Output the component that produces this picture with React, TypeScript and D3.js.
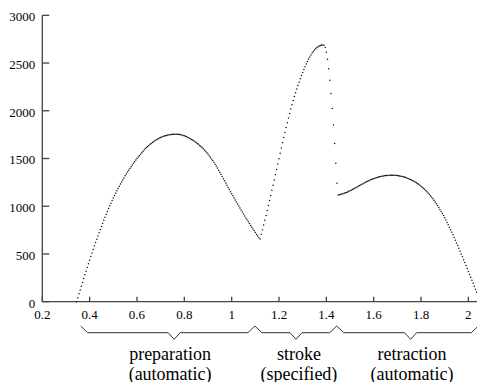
import React from "react";
import * as d3 from "d3";

const W = 485;
const H = 382;
const MARGIN = 8; // the page's default body margin
const FONT = "Liberation Serif";

// samples are taken every 5 ms, one array per phase
const sampleStep = 0.005;

const prepStart = 0.345;
const prepSpeed = [
  0, 41, 82, 122, 162, 202, 242, 281, 320, 359, 397, 435, 473, 510, 547, 583, 619, 654, 689, 723,
  756, 789, 822, 854, 885, 916, 946, 975, 1004, 1032, 1059, 1086, 1112, 1137, 1161, 1185, 1209, 1232, 1254, 1276,
  1297, 1318, 1338, 1358, 1377, 1396, 1414, 1432, 1450, 1467, 1483, 1499, 1515, 1530, 1545, 1560, 1574, 1588, 1601, 1614,
  1626, 1637, 1648, 1658, 1667, 1676, 1685, 1693, 1700, 1707, 1714, 1720, 1725, 1730, 1735, 1739, 1742, 1745, 1748, 1750,
  1752, 1754, 1755, 1755, 1755, 1755, 1753, 1752, 1749, 1746, 1742, 1737, 1732, 1727, 1721, 1714, 1707, 1700, 1693, 1685,
  1676, 1667, 1658, 1648, 1637, 1626, 1614, 1602, 1589, 1575, 1561, 1546, 1530, 1514, 1496, 1478, 1460, 1441, 1421, 1400,
  1378, 1356, 1334, 1312, 1289, 1266, 1243, 1220, 1197, 1175, 1153, 1131, 1109, 1087, 1066, 1044, 1023, 1002, 981, 960,
  939, 919, 898, 878, 858, 838, 819, 799, 780, 761, 742, 724, 705, 688, 670
];

const strokeStart = 1.12;
const strokeSpeed = [
  658, 706, 754, 804, 854, 904, 956, 1008, 1060, 1113, 1167, 1221, 1275, 1330, 1386, 1442, 1498, 1554, 1610, 1665,
  1719, 1772, 1824, 1875, 1924, 1972, 2019, 2064, 2107, 2149, 2189, 2228, 2265, 2301, 2336, 2369, 2401, 2432, 2461, 2489,
  2516, 2541, 2564, 2585, 2604, 2621, 2637, 2650, 2662, 2671, 2679, 2684, 2688, 2689, 2686, 2664, 2614, 2540, 2440, 2320,
  2180, 2025, 1850, 1658, 1450, 1240
];

const retractStart = 1.45;
const retractSpeed = [
  1118, 1121, 1124, 1127, 1131, 1135, 1140, 1145, 1150, 1156, 1162, 1168, 1174, 1181, 1188, 1195, 1202, 1209, 1216, 1223,
  1230, 1236, 1243, 1250, 1256, 1262, 1268, 1274, 1279, 1284, 1289, 1293, 1298, 1302, 1305, 1309, 1312, 1315, 1317, 1319,
  1321, 1322, 1323, 1324, 1325, 1325, 1325, 1324, 1324, 1323, 1321, 1319, 1317, 1315, 1312, 1309, 1305, 1301, 1296, 1291,
  1286, 1280, 1274, 1268, 1261, 1254, 1246, 1238, 1229, 1220, 1210, 1200, 1189, 1177, 1165, 1152, 1139, 1125, 1110, 1095,
  1079, 1062, 1044, 1026, 1007, 987, 967, 946, 924, 902, 879, 855, 830, 805, 780, 754, 727, 700, 672, 644,
  616, 588, 559, 529, 500, 470, 440, 410, 379, 348, 317, 286, 255, 224, 193, 162, 130, 99, 68, 36
];

const xTicks = [0.2, 0.4, 0.6, 0.8, 1, 1.2, 1.4, 1.6, 1.8, 2];
const yTicks = [0, 500, 1000, 1500, 2000, 2500, 3000];

// braces under the axis (in time units)
const braceFrom = [0.362, 1.098, 1.444];
const braceTo = [1.098, 1.444, 2.042];
const braceTip = [0.757, 1.272, 1.756];
const labelAt = [0.74, 1.284, 1.762];
const phaseNames = ["preparation", "stroke", "retraction"];
const phaseModes = ["(automatic)", "(specified)", "(automatic)"];

function samples(start: number, values: number[]) {
  return values.map((v, i) => ({ t: start + i * sampleStep, v }));
}

const data = [
  ...samples(prepStart, prepSpeed),
  ...samples(strokeStart, strokeSpeed),
  ...samples(retractStart, retractSpeed)
];

// text is set at 20px and scaled down to the wanted size
function Label(props: { x: number; y: number; size: number; anchor: string; text: string }) {
  const k = props.size / 20;
  return (
    <g transform={`translate(${props.x},${props.y}) scale(${k})`}>
      <text x={0} y={0} textAnchor={props.anchor} fontSize={20} fontFamily={FONT}>{props.text}</text>
    </g>
  );
}

export default function App() {
  const x = d3.scaleLinear().domain([0.2, 2.05]).range([42.3, 480.2]);
  const y = d3.scaleLinear().domain([0, 3000]).range([301.7, 15.3]);
  const fmt = d3.format("~g");
  const axisColor = "#444";

  const top = 326, mid = 332.7, low = 339.3;
  const line = d3.line();

  return (
    <svg width={W - MARGIN} height={H - MARGIN}>
      <g transform={`translate(${-MARGIN},${-MARGIN})`}>
        {/* y axis */}
        <line x1={x(0.2)} x2={x(0.2)} y1={y(0)} y2={y(3000)} stroke={axisColor} strokeWidth={1.3} />
        {yTicks.map(v => (
          <g key={"y" + v}>
            <line x1={x(0.2)} x2={x(0.2) + 7} y1={y(v)} y2={y(v)} stroke={axisColor} strokeWidth={1.3} />
            <Label x={x(0.2) - 7} y={y(v) + 5.8} size={13} anchor="end" text={String(v)} />
          </g>
        ))}
        {/* x axis */}
        <line x1={x(0.2)} x2={x(2.05)} y1={y(0)} y2={y(0)} stroke={axisColor} strokeWidth={1.3} />
        {xTicks.map(t => (
          <g key={"x" + t}>
            <line x1={x(t)} x2={x(t)} y1={y(0)} y2={y(0) - 5} stroke={axisColor} strokeWidth={1.3} />
            <Label x={x(t)} y={y(0) + 17.3} size={13} anchor="middle" text={fmt(t)} />
          </g>
        ))}
        {/* samples */}
        <g fill="#111">
          {data.map((d, i) => (
            <circle key={i} cx={x(d.t)} cy={y(d.v)} r={0.75} />
          ))}
        </g>
        {/* phase braces */}
        {braceFrom.map((from, i) => {
          const a = x(from), b = x(braceTo[i]), c = x(braceTip[i]);
          const lx = x(labelAt[i]);
          return (
            <g key={"b" + i}>
              <path d={line([[a, top], [a + 7, mid], [c - 6, mid], [c, low], [c + 6, mid], [b - 7, mid], [b, top]]) || ""}
                fill="none" stroke="#333" strokeWidth={1} />
              <Label x={lx} y={360} size={18} anchor="middle" text={phaseNames[i]} />
              <Label x={lx} y={379.5} size={18} anchor="middle" text={phaseModes[i]} />
            </g>
          );
        })}
      </g>
    </svg>
  );
}
